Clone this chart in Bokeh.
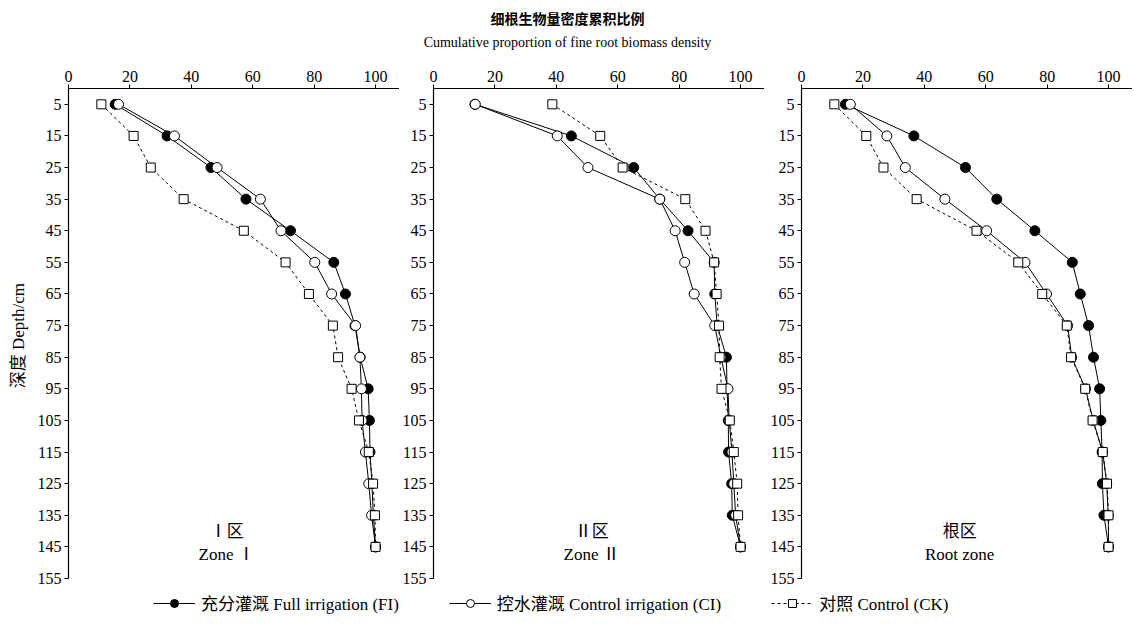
from bokeh.plotting import figure
from bokeh.layouts import column, row
from bokeh.models import Range1d, FixedTicker, Legend, LegendItem
from bokeh.core.properties import value
from bokeh.embed import file_html
from bokeh.resources import INLINE

# ---------------- data ----------------
depth = [5, 15, 25, 35, 45, 55, 65, 75, 85, 95, 105, 115, 125, 135, 145]

zone1_fi = [15.2, 32.1, 46.4, 57.8, 72.3, 86.4, 90.2, 93.3, 95.0, 97.6, 98.0, 98.2, 98.8, 99.3, 100]
zone1_ci = [16.3, 34.5, 48.4, 62.5, 69.2, 80.2, 85.7, 93.5, 94.9, 95.4, 95.6, 96.7, 97.8, 98.7, 100]
zone1_ck = [10.7, 21.2, 26.8, 37.5, 57.1, 70.7, 78.3, 86.1, 87.8, 92.2, 94.6, 97.8, 99.2, 99.8, 100]

zone2_fi = [13.5, 44.9, 65.2, 73.7, 82.9, 91.4, 91.6, 92.4, 95.4, 95.6, 96.0, 96.1, 97.1, 97.3, 100]
zone2_ci = [13.6, 40.3, 50.3, 73.7, 78.7, 81.8, 84.9, 91.6, 93.6, 95.9, 96.3, 97.2, 97.8, 98.4, 100]
zone2_ck = [38.7, 54.3, 61.6, 82.0, 88.6, 91.4, 92.2, 93.0, 93.2, 93.8, 96.5, 97.8, 98.9, 99.2, 100]

root_fi = [14.3, 36.6, 53.4, 63.6, 76.0, 88.2, 90.8, 93.5, 95.1, 97.1, 97.5, 97.9, 98.0, 98.5, 100]
root_ci = [15.9, 27.8, 33.8, 46.7, 60.3, 72.8, 79.8, 86.7, 88.0, 92.5, 95.0, 98.1, 99.4, 99.9, 100]
root_ck = [10.7, 21.1, 26.7, 37.5, 57.0, 70.6, 78.4, 86.4, 87.8, 92.4, 94.8, 98.1, 99.5, 100, 100]

x_ticks = [0, 20, 40, 60, 80, 100]
y_ticks = [5, 15, 25, 35, 45, 55, 65, 75, 85, 95, 105, 115, 125, 135, 145, 155]

series_names = ["充分灌溉 Full irrigation (FI)",
                "控水灌溉 Control irrigation (CI)",
                "对照 Control (CK)"]
panel_cn = ["Ⅰ区", "Ⅱ区", "根区"]
panel_en = ["Zone Ⅰ", "Zone Ⅱ", "Root zone"]
title_cn = "细根生物量密度累积比例"
title_en = "Cumulative proportion of fine root biomass density"
y_label = "深度  Depth/cm"

# ---------------- styling ----------------
SERIF = "'Liberation Serif', 'Noto Sans CJK SC', serif"
CJK = "'Noto Sans CJK SC', 'Liberation Serif', sans-serif"
FS = "16px"
FRAME_W = 331


def make_panel(fi, ci, ck, cn, en, left, right=0, ylabel=None):
    p = figure(width=left + FRAME_W + right, height=530,
               x_range=Range1d(0, 107.8), y_range=Range1d(155, 0),
               x_axis_location="above",
               output_backend="svg", toolbar_location=None,
               min_border_left=left, min_border_right=right,
               min_border_top=30, min_border_bottom=10)
    p.outline_line_color = None
    p.xgrid.visible = False
    p.ygrid.visible = False
    p.background_fill_color = "white"
    p.border_fill_color = "white"

    for ax in (p.xaxis[0], p.yaxis[0]):
        ax.axis_line_color = "black"
        ax.axis_line_width = 1.2
        ax.major_tick_line_color = "black"
        ax.major_tick_in = 0
        ax.major_tick_out = 4
        ax.minor_tick_line_color = None
        ax.major_label_text_font = SERIF
        ax.major_label_text_font_size = FS
        ax.major_label_text_color = "black"
    p.xaxis[0].ticker = FixedTicker(ticks=x_ticks)
    p.yaxis[0].ticker = FixedTicker(ticks=y_ticks)
    p.xaxis[0].major_label_standoff = 3
    p.yaxis[0].major_label_standoff = 3
    if ylabel:
        p.yaxis[0].axis_label = ylabel
        p.yaxis[0].axis_label_text_font = SERIF
        p.yaxis[0].axis_label_text_font_size = "17px"
        p.yaxis[0].axis_label_text_font_style = "normal"
        p.yaxis[0].axis_label_text_color = "black"
        p.yaxis[0].axis_label_standoff = 7

    # lines
    p.line(fi, depth, line_color="black", line_width=1)
    p.line(ci, depth, line_color="black", line_width=1)
    p.line(ck, depth, line_color="black", line_width=1, line_dash="3 3")
    # markers
    p.scatter(fi, depth, marker="circle", size=10, fill_color="black", line_color="black")
    p.scatter(ci, depth, marker="circle", size=10, fill_color="white", line_color="black")
    p.scatter(ck, depth, marker="square", size=9, fill_color="white", line_color="black")

    # zone labels
    p.text(x=[51.5], y=[140], text=[cn], text_align="center", text_baseline="middle",
           text_font=value(SERIF), text_font_size="17px", text_color="black")
    p.text(x=[51.5], y=[147.3], text=[en], text_align="center", text_baseline="middle",
           text_font=value(SERIF), text_font_size="17px", text_color="black")
    return p


p1 = make_panel(zone1_fi, zone1_ci, zone1_ck, panel_cn[0], panel_en[0], 68, ylabel=y_label)
p2 = make_panel(zone2_fi, zone2_ci, zone2_ck, panel_cn[1], panel_en[1], 34)
p3 = make_panel(root_fi, root_ci, root_ck, panel_cn[2], panel_en[2], 37)

# header
head = figure(width=1132, height=58, x_range=Range1d(0, 1132), y_range=Range1d(58, 0),
              output_backend="svg", toolbar_location=None, min_border=0)
head.axis.visible = False
head.grid.visible = False
head.outline_line_color = None
head.text(x=[567], y=[17], text=[title_cn], text_align="center", text_baseline="middle",
          text_font=value(CJK), text_font_size="14px", text_font_style="bold", text_color="black")
head.text(x=[567], y=[42], text=[title_en], text_align="center", text_baseline="middle",
          text_font=value(SERIF), text_font_size="14px", text_color="black")

# legend strip (renderers hold the data but lie outside this strip's ranges)
leg = figure(width=1132, height=34, x_range=Range1d(-2, -1), y_range=Range1d(-2, -1),
             output_backend="svg", toolbar_location=None, min_border=0)
leg.axis.visible = False
leg.grid.visible = False
leg.outline_line_color = None
l1 = leg.line(zone1_fi, depth, line_color="black", line_width=1)
s1 = leg.scatter(zone1_fi, depth, marker="circle", size=8, fill_color="black", line_color="black")
l2 = leg.line(zone1_ci, depth, line_color="black", line_width=1)
s2 = leg.scatter(zone1_ci, depth, marker="circle", size=8, fill_color="white", line_color="black")
l3 = leg.line(zone1_ck, depth, line_color="black", line_width=1, line_dash="3 3")
s3 = leg.scatter(zone1_ck, depth, marker="square", size=8, fill_color="white", line_color="black")
legend = Legend(items=[LegendItem(label=series_names[0], renderers=[l1, s1]),
                       LegendItem(label=series_names[1], renderers=[l2, s2]),
                       LegendItem(label=series_names[2], renderers=[l3, s3])],
                orientation="horizontal", location=(153, 7), padding=0, margin=0,
                spacing=50, glyph_width=42, glyph_height=20, label_standoff=6,
                border_line_color=None, background_fill_alpha=0,
                label_text_font=SERIF, label_text_font_size="17px",
                label_text_color="black")
leg.add_layout(legend)

layout = column(head, row(p1, p2, p3), leg)
open("out.html", "w").write(file_html(layout, INLINE))
